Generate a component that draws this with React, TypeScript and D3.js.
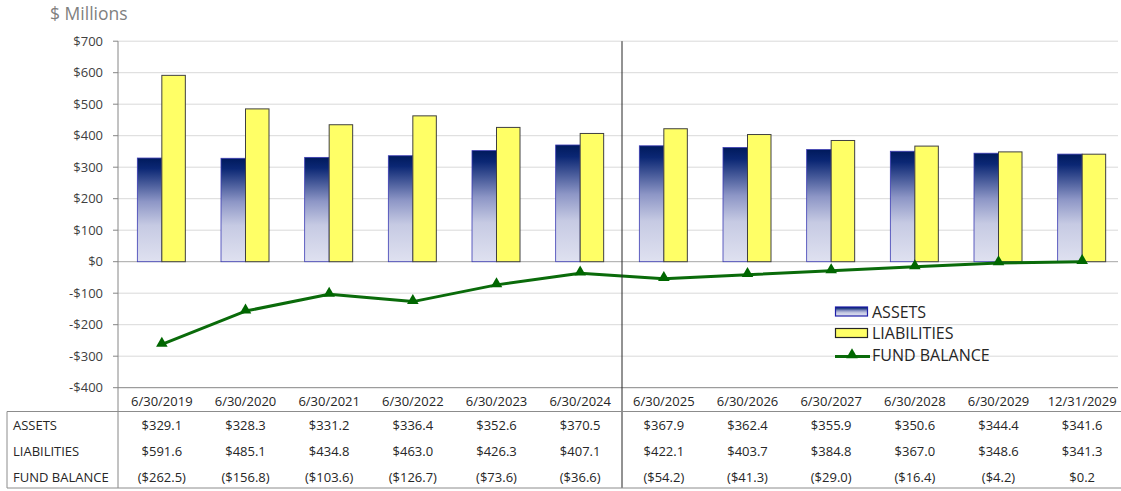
import { useEffect, useRef } from "react";
import * as d3 from "d3";

const categories = [
  "6/30/2019", "6/30/2020", "6/30/2021", "6/30/2022", "6/30/2023", "6/30/2024",
  "6/30/2025", "6/30/2026", "6/30/2027", "6/30/2028", "6/30/2029", "12/31/2029",
];
const assets = [329.1, 328.3, 331.2, 336.4, 352.6, 370.5, 367.9, 362.4, 355.9, 350.6, 344.4, 341.6];
const liabilities = [591.6, 485.1, 434.8, 463.0, 426.3, 407.1, 422.1, 403.7, 384.8, 367.0, 348.6, 341.3];
const fundBalance = [-262.5, -156.8, -103.6, -126.7, -73.6, -36.6, -54.2, -41.3, -29.0, -16.4, -4.2, 0.2];
const yTicks = [700, 600, 500, 400, 300, 200, 100, 0, -100, -200, -300, -400];
const rowLabels = ["ASSETS", "LIABILITIES", "FUND BALANCE"];

const W = 1121;
const H = 491;
const FONT = "'Open Sans', sans-serif";

const money = (v: number) =>
  v < 0 ? `($${Math.abs(v).toFixed(1)})` : `$${v.toFixed(1)}`;
const tickFmt = (v: number) => (v < 0 ? `-$${Math.abs(v)}` : `$${v}`);

export default function App() {
  const ref = useRef<SVGSVGElement | null>(null);

  useEffect(() => {
    const svg = d3.select(ref.current!);
    svg.selectAll("*").remove();

    const x = d3.scaleBand<string>().domain(categories).range([120, 1124]).padding(0);
    const y = d3.scaleLinear().domain([-400, 700]).range([387.7, 41.2]);
    const half = 24.5;
    const cx = (c: string) => x(c)! + x.bandwidth() / 2;

    const defs = svg.append("defs");
    const grad = defs
      .append("linearGradient")
      .attr("id", "assetGrad")
      .attr("x1", 0).attr("y1", 0).attr("x2", 0).attr("y2", 1);
    [
      [0, "#001a5c"],
      [0.1, "#0b2774"],
      [0.42, "#8d96c6"],
      [0.65, "#c6cae3"],
      [1, "#dfe1f0"],
    ].forEach(([o, c]) => grad.append("stop").attr("offset", o as number).attr("stop-color", c as string));

    // title
    svg.append("text")
      .attr("x", 50).attr("y", 20)
      .style("font", `17.5px ${FONT}`)
      .style("fill", "#7f7f7f")
      .text("$ Millions");

    // grid
    svg.append("g")
      .selectAll("line")
      .data(yTicks.filter((t) => t !== -400))
      .join("line")
      .attr("x1", 118).attr("x2", 1118)
      .attr("y1", (d) => y(d)).attr("y2", (d) => y(d))
      .attr("stroke", (d) => (d === 0 ? "#a6a6a6" : "#d9d9d9"))
      .attr("stroke-width", 1);

    // y labels + ticks
    const yl = svg.append("g");
    yl.selectAll("text")
      .data(yTicks)
      .join("text")
      .attr("x", 103).attr("y", (d) => y(d) + 4.5)
      .attr("text-anchor", "end")
      .style("font", `13px ${FONT}`)
      .style("fill", "#404040")
      .text((d) => tickFmt(d));
    yl.selectAll("line")
      .data(yTicks)
      .join("line")
      .attr("x1", 113).attr("x2", 118)
      .attr("y1", (d) => y(d)).attr("y2", (d) => y(d))
      .attr("stroke", "#868686");

    // bars
    svg.append("g")
      .selectAll("rect")
      .data(assets)
      .join("rect")
      .attr("x", (_, i) => cx(categories[i]) - half)
      .attr("width", half)
      .attr("y", (d) => y(d))
      .attr("height", (d) => y(0) - y(d))
      .attr("fill", "url(#assetGrad)")
      .attr("stroke", "#3b3bb3")
      .attr("stroke-width", 0.8);

    svg.append("g")
      .selectAll("rect")
      .data(liabilities)
      .join("rect")
      .attr("x", (_, i) => cx(categories[i]))
      .attr("width", half - 1)
      .attr("y", (d) => y(d))
      .attr("height", (d) => y(0) - y(d))
      .attr("fill", "#ffff66")
      .attr("stroke", "#404040")
      .attr("stroke-width", 1);

    // fund balance line
    const line = d3
      .line<number>()
      .x((_, i) => cx(categories[i]))
      .y((d) => y(d));
    svg.append("path")
      .datum(fundBalance)
      .attr("d", line)
      .attr("fill", "none")
      .attr("stroke", "#0a6b0a")
      .attr("stroke-width", 3)
      .attr("stroke-linejoin", "round");

    const tri = d3.symbol().type(d3.symbolTriangle).size(58);
    svg.append("g")
      .selectAll("path")
      .data(fundBalance)
      .join("path")
      .attr("d", tri)
      .attr("transform", (d, i) => `translate(${cx(categories[i])},${y(d) - 1})`)
      .attr("fill", "#006600");

    // axes lines
    svg.append("line")
      .attr("x1", 118).attr("x2", 118).attr("y1", 41.2).attr("y2", 488)
      .attr("stroke", "#868686");
    svg.append("line")
      .attr("x1", 118).attr("x2", 1118).attr("y1", y(-400)).attr("y2", y(-400))
      .attr("stroke", "#868686");

    // divider between actual and projected
    const divX = x(categories[6])!;
    svg.append("line")
      .attr("x1", divX).attr("x2", divX).attr("y1", 41.2).attr("y2", 488)
      .attr("stroke", "#262626");

    // x labels
    svg.append("g")
      .selectAll("text")
      .data(categories)
      .join("text")
      .attr("x", (d) => cx(d)).attr("y", 406)
      .attr("text-anchor", "middle")
      .style("font", `13px ${FONT}`)
      .style("fill", "#262626")
      .text((d) => d);

    // data table
    const tb = svg.append("g");
    tb.append("line").attr("x1", 7).attr("x2", W).attr("y1", 411.5).attr("y2", 411.5).attr("stroke", "#8c8c8c");
    tb.append("line").attr("x1", 7).attr("x2", W).attr("y1", 488).attr("y2", 488).attr("stroke", "#8c8c8c");
    tb.append("line").attr("x1", 7).attr("x2", 7).attr("y1", 411.5).attr("y2", 488).attr("stroke", "#8c8c8c");

    const rows = [assets, liabilities, fundBalance];
    const rowY = [430, 456, 481.7];
    rows.forEach((vals, r) => {
      tb.append("text")
        .attr("x", 13).attr("y", rowY[r])
        .style("font", `13px ${FONT}`)
        .style("fill", "#262626")
        .text(rowLabels[r]);
      tb.append("g")
        .selectAll("text")
        .data(vals)
        .join("text")
        .attr("x", (_, i) => cx(categories[i]))
        .attr("y", rowY[r])
        .attr("text-anchor", "middle")
        .style("font", `13px ${FONT}`)
        .style("fill", "#262626")
        .text((d) => money(d));
    });

    // legend
    const lg = svg.append("g");
    lg.append("rect")
      .attr("x", 835.5).attr("y", 307).attr("width", 32).attr("height", 9)
      .attr("fill", "url(#assetGrad)").attr("stroke", "#1f1fa8").attr("stroke-width", 1.2);
    lg.append("rect")
      .attr("x", 835.5).attr("y", 328.5).attr("width", 32).attr("height", 9)
      .attr("fill", "#ffff66").attr("stroke", "#262626").attr("stroke-width", 1.2);
    lg.append("line")
      .attr("x1", 835).attr("x2", 870).attr("y1", 356.5).attr("y2", 356.5)
      .attr("stroke", "#0a6b0a").attr("stroke-width", 3);
    lg.append("path")
      .attr("d", tri)
      .attr("transform", "translate(852,355)")
      .attr("fill", "#006600");
    ["ASSETS", "LIABILITIES", "FUND BALANCE"].forEach((t, i) => {
      lg.append("text")
        .attr("x", 872).attr("y", 317.5 + i * 21.7)
        .style("font", `16px ${FONT}`)
        .style("fill", "#262626")
        .text(t);
    });
  }, []);

  return (
    <>
      <style>{`body{margin:0}`}</style>
      <svg ref={ref} width={W} height={H} style={{ display: "block", background: "#fff" }} />
    </>
  );
}
